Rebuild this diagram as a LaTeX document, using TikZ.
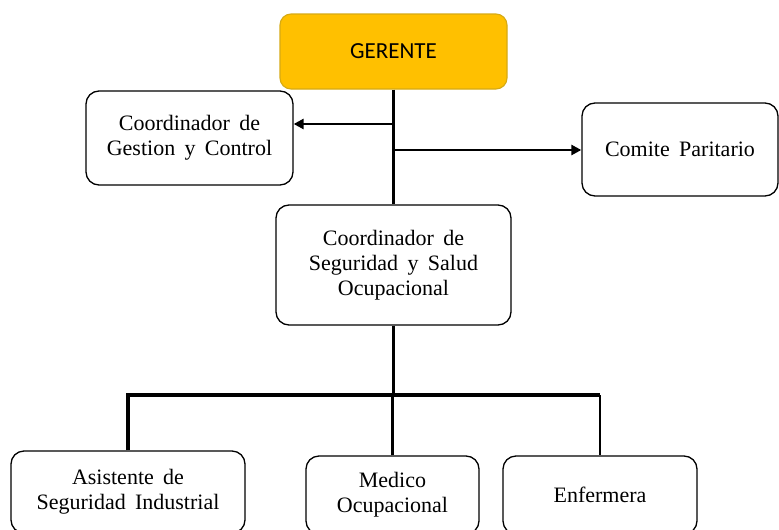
\documentclass[tikz,border=0pt]{standalone}
\usepackage{fontspec}
\setmainfont{Liberation Serif}[WordSpace=1.7]
\newfontfamily\calibri{Carlito}
\usetikzlibrary{arrows.meta}
\definecolor{gold}{RGB}{255,192,0}
\definecolor{goldedge}{RGB}{214,170,20}
\tikzset{
  unitbox/.style={draw=black, line width=1.3pt, rounded corners=13pt, fill=white,
    align=center, inner sep=0pt, font=\fontsize{22}{25}\selectfont},
  headbox/.style={draw=goldedge, line width=1.1pt, rounded corners=11pt, fill=gold,
    align=center, inner sep=0pt, font=\calibri\fontsize{23}{25}\selectfont},
  trunk/.style={line width=3.3pt},
  arr/.style={line width=2.8pt, -{Triangle[length=10pt,width=10pt]}},
}
\begin{document}
\begin{tikzpicture}[x=1pt,y=-1pt]
  \useasboundingbox[fill=white] (0,0) rectangle (779,530);

  % boxes
  \node[headbox, minimum width=227pt, minimum height=75pt] (ger) at (393.5,51.5) {GERENTE};
  \node[unitbox, minimum width=207pt, minimum height=94pt] (ges) at (189.5,138) {Coordinador de\\Gestion y Control};
  \node[unitbox, minimum width=196pt, minimum height=93pt] (com) at (680,149.5) {Comite Paritario};
  \node[unitbox, minimum width=235pt, minimum height=120pt] (seg) at (393.5,265) {Coordinador de\\Seguridad y Salud\\Ocupacional};
  \node[unitbox, minimum width=234pt, minimum height=82pt] (asi) at (128,492) {Asistente de\\Seguridad Industrial};
  \node[unitbox, minimum width=173pt, minimum height=78pt] (med) at (392.5,495) {Medico\\Ocupacional};
  \node[unitbox, minimum width=194pt, minimum height=78pt] (enf) at (600,495) {Enfermera};

  % junction points
  \coordinate (jl) at (394,124);
  \coordinate (jr) at (394,150);
  \coordinate (bus) at (392,395);

  % main line from the manager down to the coordinator
  \draw[trunk] (ger.south) -- (seg.north);
  \draw[arr] (jl) -- (jl -| ges.east);
  \draw[arr] (jr) -- (jr -| com.west);

  % branch to the staff under the coordinator
  \draw[trunk] (seg.south) -- (seg.south |- bus);
  \draw[trunk] (asi.north) -- (asi.north |- bus) -- (enf.north |- bus);
  \draw[trunk] (med.north) -- (med.north |- bus);
  \draw[line width=2.5pt] (enf.north |- bus) -- (enf.north);
\end{tikzpicture}
\end{document}
